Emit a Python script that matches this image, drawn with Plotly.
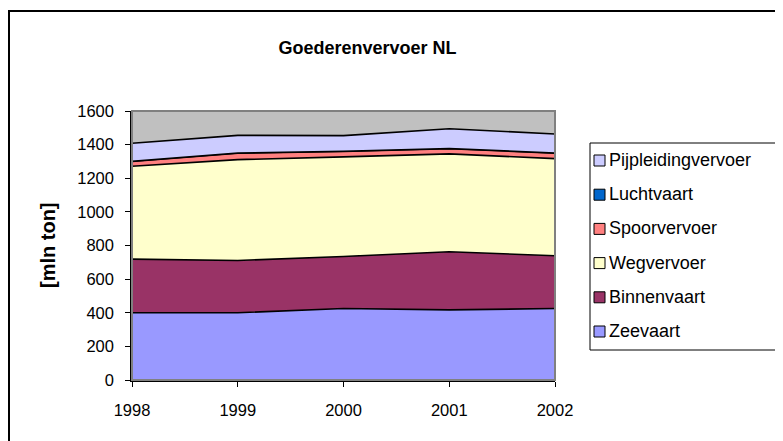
import plotly.graph_objects as go

# Goederenvervoer NL, mln ton per modaliteit (stacked)
years = [1998, 1999, 2000, 2001, 2002]
zeevaart = [400, 400, 425, 417, 425]
binnenvaart = [319, 311, 310, 346, 314]
wegvervoer = [552, 600, 592, 582, 578]
spoorvervoer = [29, 38, 32, 31, 32]
luchtvaart = [1.2, 1.3, 1.3, 1.2, 1.3]
pijpleiding = [107, 105, 93, 117, 113]

series = [
    ("Zeevaart", zeevaart, "#9999FF"),
    ("Binnenvaart", binnenvaart, "#993366"),
    ("Wegvervoer", wegvervoer, "#FFFFCC"),
    ("Spoorvervoer", spoorvervoer, "#FF8080"),
    ("Luchtvaart", luchtvaart, "#0066CC"),
    ("Pijpleidingvervoer", pijpleiding, "#CCCCFF"),
]

font = "Liberation Sans, Arial, sans-serif"
# page body has an 8px margin, so the figure is a bit smaller than the window
W, H = 775, 433
L, R, T, B = 124, 547, 103, 372   # plot area in figure pixels


def px(x):
    return (x - L) / (R - L)


def py(y):
    return (B - y) / (B - T)


fig = go.Figure()
for name, vals, col in series:
    fig.add_trace(go.Scatter(
        x=years, y=vals, name=name, mode="lines",
        stackgroup="one", fillcolor=col,
        line=dict(color="black", width=1.6),
        showlegend=False,
    ))

# plot area border (Excel style) and outer chart frame
fig.add_shape(type="rect", xref="paper", yref="paper", x0=0, y0=0, x1=1, y1=1,
              line=dict(color="#808080", width=2), layer="above")
fig.add_shape(type="rect", xref="paper", yref="paper",
              x0=px(1), y0=py(3), x1=px(820), y1=py(470),
              line=dict(color="black", width=2))

# legend drawn by hand, top entry = last series
fig.add_shape(type="rect", xref="paper", yref="paper",
              x0=px(582), y0=py(135), x1=px(820), y1=py(342),
              line=dict(color="black", width=1), fillcolor="white")
for i, (name, vals, col) in enumerate(reversed(series)):
    cy = 152 + i * 34.2
    fig.add_shape(type="rect", xref="paper", yref="paper",
                  x0=px(586), y0=py(cy - 5), x1=px(597), y1=py(cy + 6),
                  line=dict(color="black", width=1), fillcolor=col)
    fig.add_annotation(x=px(599), y=py(cy), xref="paper", yref="paper",
                       text=name, showarrow=False, xanchor="left", yanchor="middle",
                       font=dict(size=18, family=font, color="black"))

fig.add_annotation(x=px(40), y=py(237), xref="paper", yref="paper",
                   text="<b>[mln ton]</b>", textangle=-90, showarrow=False,
                   xanchor="center", yanchor="middle",
                   font=dict(size=20, family=font, color="black"))

fig.update_layout(
    width=W, height=H,
    margin=dict(l=L, r=W - R, t=T, b=H - B),
    paper_bgcolor="white",
    plot_bgcolor="#C0C0C0",
    font=dict(family=font, size=16.5, color="black"),
    title=dict(text="<b>Goederenvervoer NL</b>", xref="container", x=359.5 / W,
               xanchor="center", yref="container", y=1 - 40 / H, yanchor="middle",
               font=dict(size=18)),
    showlegend=False,
    xaxis=dict(
        range=[1998, 2002], tickvals=years, ticktext=[str(y) for y in years],
        showgrid=False, zeroline=False, showline=True, linecolor="black", linewidth=1.5,
        ticks="outside", ticklen=5, tickcolor="black", ticklabelstandoff=9,
    ),
    yaxis=dict(
        range=[0, 1600], dtick=200, showgrid=False, zeroline=False,
        showline=True, linecolor="black", linewidth=1.5,
        ticks="outside", ticklen=5, tickcolor="black", ticklabelstandoff=8,
    ),
)

fig.write_html("out.html")
